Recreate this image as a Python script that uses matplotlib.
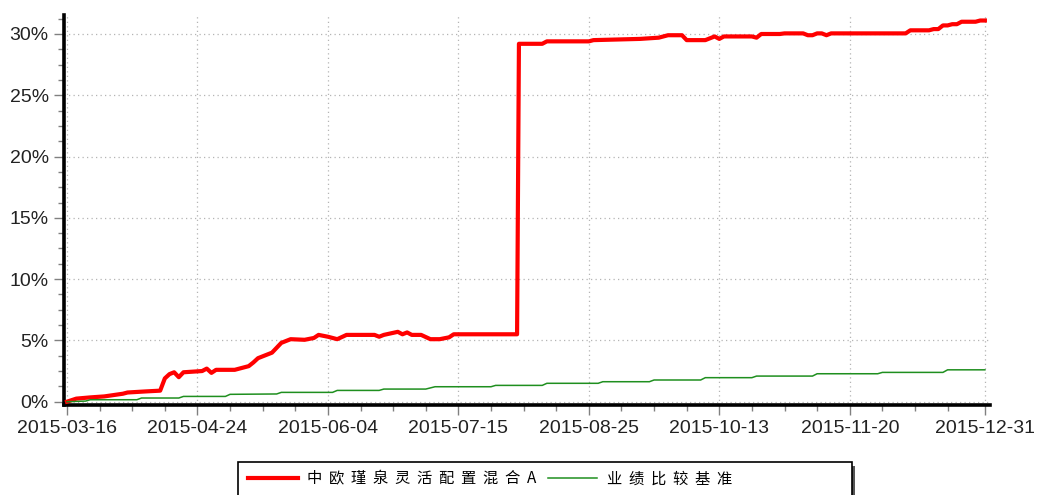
import matplotlib
matplotlib.use("Agg")
import matplotlib.pyplot as plt
from matplotlib.patches import Rectangle
from matplotlib.ticker import FixedLocator, MultipleLocator, FuncFormatter

# trading-day index -> cumulative return (%)
fund_days = [0, 2, 5, 8, 12, 13, 17, 20, 21, 22, 23, 24, 25, 29, 30, 31, 32, 36,
             39, 40, 41, 44, 46, 48, 51, 53, 54, 56, 58, 60, 66, 67, 68, 71, 72,
             73, 74, 76, 78, 80, 82, 83, 96.6, 97, 102, 103, 112, 113, 123, 127,
             129, 132, 133, 137, 139, 140, 141, 147, 148, 149, 153, 154, 158,
             159, 160, 161, 162, 163, 164, 180, 181, 185, 186, 187, 188, 189,
             190, 191, 192, 195, 196, 197]
fund_vals = [0.0, 0.25, 0.35, 0.43, 0.65, 0.75, 0.84, 0.9, 1.9, 2.25, 2.4, 2.0,
             2.4, 2.5, 2.7, 2.35, 2.6, 2.6, 2.9, 3.2, 3.55, 4.0, 4.8, 5.1, 5.05,
             5.2, 5.45, 5.3, 5.1, 5.45, 5.45, 5.3, 5.45, 5.7, 5.5, 5.65, 5.45,
             5.45, 5.1, 5.1, 5.25, 5.5, 5.5, 29.2, 29.2, 29.4, 29.4, 29.5, 29.6,
             29.7, 29.9, 29.9, 29.5, 29.5, 29.8, 29.6, 29.8, 29.8, 29.7, 30.0,
             30.0, 30.05, 30.05, 29.9, 29.9, 30.05, 30.05, 29.9, 30.05, 30.05,
             30.3, 30.3, 30.4, 30.4, 30.7, 30.7, 30.8, 30.8, 31.0, 31.0, 31.1,
             31.1]

bench_days = [0, 4, 5, 15, 16, 24, 25, 34, 35, 45, 46, 57, 58, 67, 68, 77, 79,
              91, 92, 102, 103, 114, 115, 125, 126, 136, 137, 147, 148, 160,
              161, 174, 175, 188, 189, 197]
bench_vals = [0.0, 0.05, 0.16, 0.16, 0.3, 0.3, 0.43, 0.43, 0.6, 0.63, 0.76,
              0.76, 0.92, 0.92, 1.03, 1.03, 1.22, 1.22, 1.33, 1.33, 1.5, 1.5,
              1.63, 1.63, 1.77, 1.77, 1.96, 1.96, 2.09, 2.09, 2.28, 2.28, 2.39,
              2.39, 2.6, 2.6]

tick_days = [0, 28, 56, 84, 112, 140, 168, 197]
tick_labels = ["2015-03-16", "2015-04-24", "2015-06-04", "2015-07-15",
               "2015-08-25", "2015-10-13", "2015-11-20", "2015-12-31"]

fund_name = "中欧瑾泉灵活配置混合A"
bench_name = "业绩比较基准"

W, H = 1038, 495
fig = plt.figure(figsize=(W / 100, H / 100), dpi=100)
ax = fig.add_axes([64 / W, 1 - 405 / H, 926 / W, 390 / H])

ax.plot(fund_days, fund_vals, color="#ff0000", lw=3.0, solid_joinstyle="round",
        label="  ".join(fund_name), zorder=3)
ax.plot(bench_days, bench_vals, color="#1f8f1f", lw=1.1,
        label="  ".join(bench_name), zorder=3)

ax.set_xlim(-0.64, 198.1)
ax.set_ylim(-0.27, 31.55)

ax.xaxis.set_major_locator(FixedLocator(tick_days))
ax.set_xticklabels(tick_labels)
ax.xaxis.set_minor_locator(FixedLocator([d for d in range(0, 197, 7) if d % 28 != 0]))
ax.yaxis.set_major_locator(MultipleLocator(5))
ax.yaxis.set_minor_locator(MultipleLocator(1.25))
ax.yaxis.set_major_formatter(FuncFormatter(lambda v, p: "%d%%" % round(v)))

for side in ["top", "right"]:
    ax.spines[side].set_visible(False)
for side in ["left", "bottom"]:
    ax.spines[side].set_linewidth(2.6)
    ax.spines[side].set_color("black")

ax.tick_params(which="major", length=7, width=1, color="#808080", pad=4,
               labelsize=14, labelcolor="#222222")
ax.tick_params(which="minor", length=4, width=1, color="#808080")
for lab in ax.get_xticklabels() + ax.get_yticklabels():
    lab.set_family(["Liberation Sans", "DejaVu Sans"])

ax.grid(True, which="major", color="#b4b4b4", lw=0.9, linestyle=(0, (1, 2.6)))
ax.set_axisbelow(True)

# legend box (fixed width frame with a shadow, cut by the bottom edge)
fig.patches.append(Rectangle((855 / W - 614 / W, -0.05), 614 / W, (495 - 466) / H + 0.05,
                             transform=fig.transFigure, facecolor="#555555",
                             edgecolor="none", zorder=1))
fig.patches.append(Rectangle((238 / W, -0.05), 614 / W, (495 - 462) / H + 0.05,
                             transform=fig.transFigure, facecolor="white",
                             edgecolor="black", lw=1.2, zorder=2))

fig.legend(loc="center left", bbox_to_anchor=(248 / W, 1 - 479 / H), ncol=2,
           frameon=False, borderpad=0, borderaxespad=0, handlelength=3.25,
           handletextpad=0.62, columnspacing=0.75,
           prop={"family": ["Noto Sans CJK SC", "DejaVu Sans"], "size": 11})

fig.savefig("out.png", dpi=100)
